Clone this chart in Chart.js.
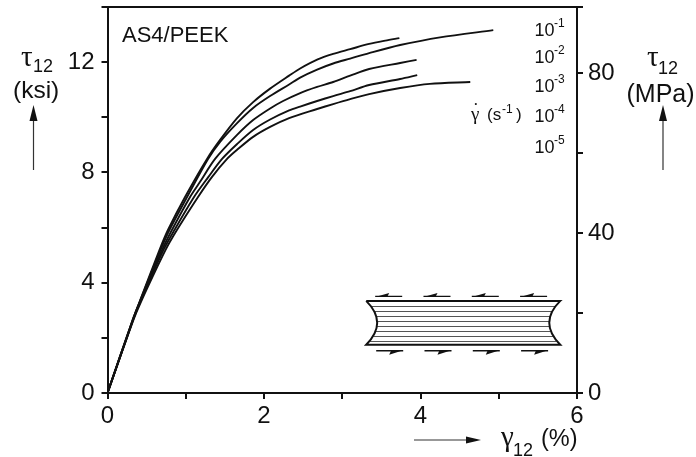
<!DOCTYPE html>
<html>
<head>
<meta charset="utf-8">
<style>
  html, body { margin: 0; padding: 0; background: #fff; }
  canvas { display: block; }
</style>
<script src="https://cdn.jsdelivr.net/npm/chart.js@4/dist/chart.umd.min.js"></script>
</head>
<body>
<canvas id="chart" width="696" height="457"></canvas>
<script>
// shear strain (%) and shear stress (ksi), one pair per strain rate
const strainA = [0, 0.32, 0.41, 0.665, 0.774, 0.991, 1.272, 1.439, 1.656, 1.861, 2.078, 2.321, 2.462, 2.679, 2.884, 3.101, 3.344, 3.55, 3.73];
const stressA = [0, 2.64, 3.31, 5.19, 5.92, 7.11, 8.49, 9.18, 9.97, 10.55, 11.04, 11.51, 11.77, 12.09, 12.3, 12.47, 12.66, 12.78, 12.87];
const strainB = [0, 0.32, 0.412, 0.678, 0.793, 1.017, 1.285, 1.439, 1.656, 1.861, 2.078, 2.321, 2.462, 2.679, 2.884, 3.101, 3.344, 3.74, 4.25, 4.93];
const stressB = [0, 2.64, 3.31, 5.19, 5.92, 7.11, 8.49, 9.11, 9.79, 10.34, 10.77, 11.19, 11.44, 11.73, 11.95, 12.13, 12.33, 12.62, 12.9, 13.16];
const strainC = [0, 0.325, 0.416, 0.698, 0.825, 1.055, 1.183, 1.375, 1.656, 1.861, 2.078, 2.244, 2.462, 2.679, 2.884, 3.101, 3.344, 3.74, 3.95];
const stressC = [0, 2.64, 3.31, 5.19, 5.92, 7.11, 7.66, 8.49, 9.36, 9.9, 10.32, 10.59, 10.88, 11.1, 11.28, 11.51, 11.75, 11.97, 12.08];
const strainD = [0, 0.325, 0.42, 0.716, 0.857, 1.106, 1.285, 1.464, 1.656, 1.861, 2.078, 2.321, 2.462, 2.679, 2.884, 3.101, 3.344, 3.74, 3.958];
const stressD = [0, 2.64, 3.31, 5.19, 5.92, 7.11, 7.82, 8.49, 9.03, 9.54, 9.92, 10.25, 10.39, 10.59, 10.77, 10.95, 11.17, 11.39, 11.53];
const strainE = [0, 0.33, 0.428, 0.742, 0.889, 1.157, 1.336, 1.528, 1.656, 1.861, 2.078, 2.321, 2.679, 2.884, 3.101, 3.344, 3.74, 4.12, 4.636];
const stressE = [0, 2.64, 3.31, 5.19, 5.92, 7.11, 7.84, 8.49, 8.82, 9.29, 9.65, 9.97, 10.3, 10.48, 10.66, 10.84, 11.06, 11.21, 11.28];

const strainRates = ['-1', '-2', '-3', '-4', '-5'];
const ksiLabels = [0, 4, 8, 12];
const mpaLabels = [0, 40, 80];
const strainLabels = [0, 2, 4, 6];

const INK = '#111';
const SANS = '"Liberation Sans", Arial, sans-serif';
const SERIF = '"Liberation Serif", serif';

function curve(xs, ys) {
    return {
        data: xs.map((x, i) => ({ x: x, y: ys[i] })),
        borderColor: INK,
        borderWidth: 1.9,
        pointRadius: 0,
        showLine: true,
        tension: 0.3,
        xAxisID: 'x',
        yAxisID: 'y'
    };
}

function text(ctx, str, x, y, size, font, align) {
    ctx.font = `${size}px ${font || SANS}`;
    ctx.textAlign = align || 'left';
    ctx.textBaseline = 'alphabetic';
    ctx.fillStyle = INK;
    ctx.fillText(str, x, y);
}

function arrow(ctx, x1, y1, x2, y2, head, width) {
    const a = Math.atan2(y2 - y1, x2 - x1);
    ctx.strokeStyle = '#333';
    ctx.lineWidth = 1.2;
    ctx.beginPath();
    ctx.moveTo(x1, y1);
    ctx.lineTo(x2 - head * Math.cos(a), y2 - head * Math.sin(a));
    ctx.stroke();
    ctx.fillStyle = INK;
    ctx.beginPath();
    ctx.moveTo(x2, y2);
    ctx.lineTo(x2 - head * Math.cos(a) - width * Math.sin(a), y2 - head * Math.sin(a) + width * Math.cos(a));
    ctx.lineTo(x2 - head * Math.cos(a) + width * Math.sin(a), y2 - head * Math.sin(a) - width * Math.cos(a));
    ctx.closePath();
    ctx.fill();
}

// specimen sketch, placed in axis units so it stays with the plot
function drawSpecimen(ctx, sx, sy) {
    const left = sx.getPixelForValue(3.306), right = sx.getPixelForValue(5.786);
    const top = sy.getPixelForValue(3.34), bottom = sy.getPixelForValue(1.75);
    const bow = 22, h = bottom - top;

    ctx.strokeStyle = '#555';
    ctx.lineWidth = 1;
    for (let k = 0; k < 8; k++) {
        const y = top + 5 + k * 5 - (k > 2 ? 0.3 : 0);
        const t = (y - top) / h;
        const off = 2 * t * (1 - t) * bow;
        ctx.beginPath();
        ctx.moveTo(left + off, Math.round(y) + 0.5);
        ctx.lineTo(right - off, Math.round(y) + 0.5);
        ctx.stroke();
    }

    ctx.strokeStyle = INK;
    ctx.lineWidth = 2;
    ctx.beginPath();
    ctx.moveTo(left, top);
    ctx.lineTo(right, top);
    ctx.quadraticCurveTo(right - bow, top + h / 2, right, bottom);
    ctx.lineTo(left, bottom);
    ctx.quadraticCurveTo(left + bow, top + h / 2, left, top);
    ctx.stroke();

    ctx.fillStyle = INK;
    for (let k = 0; k < 4; k++) {
        const a = left + 9 + k * 48.3;
        // top row points left, bottom row points right, half heads
        ctx.lineWidth = 1.3;
        ctx.beginPath();
        ctx.moveTo(a, top - 4.5);
        ctx.lineTo(a + 27, top - 4.5);
        ctx.moveTo(a + 1, bottom + 6);
        ctx.lineTo(a + 28, bottom + 6);
        ctx.stroke();
        ctx.beginPath();
        ctx.moveTo(a, top - 4);
        ctx.lineTo(a + 14, top - 8);
        ctx.lineTo(a + 12, top - 4);
        ctx.closePath();
        ctx.fill();
        ctx.beginPath();
        ctx.moveTo(a + 28, bottom + 5.5);
        ctx.lineTo(a + 14, bottom + 10);
        ctx.lineTo(a + 16, bottom + 5.5);
        ctx.closePath();
        ctx.fill();
    }
}

const annotations = {
    id: 'annotations',
    afterDraw(chart) {
        const ctx = chart.ctx;
        ctx.save();

        text(ctx, 'AS4/PEEK', 122, 41.5, 22);

        // left axis title
        text(ctx, 'τ', 21, 66, 29, SERIF);
        text(ctx, '12', 33, 72, 18);
        text(ctx, '(ksi)', 13, 98, 24.5);
        arrow(ctx, 33.5, 170, 33.5, 105, 16, 4);

        // right axis title
        text(ctx, 'τ', 647, 66, 29, SERIF);
        text(ctx, '12', 658, 74, 18);
        text(ctx, '(MPa)', 626.5, 102, 25);
        arrow(ctx, 663, 170, 663, 105, 16, 4);

        // bottom axis title
        arrow(ctx, 414, 440, 481, 440, 15, 3.5);
        text(ctx, 'γ', 501, 446, 29, SERIF);
        text(ctx, '12', 513, 456, 18);
        text(ctx, '(%)', 541, 446, 23.5);

        // strain rate key
        const rateY = [36, 63, 91.5, 122, 153];
        strainRates.forEach((exp, i) => {
            text(ctx, '10', 534.5, rateY[i], 18);
            text(ctx, exp, 554, rateY[i] - 9, 12);
        });
        text(ctx, 'γ', 471, 120, 19, SERIF);
        text(ctx, '·', 473, 110, 17, SERIF);
        text(ctx, '(s', 487, 120, 17);
        text(ctx, '-1', 502, 113, 12);
        text(ctx, ')', 516, 120, 17);

        drawSpecimen(ctx, chart.scales.x, chart.scales.y);
        ctx.restore();
    }
};

function tickStyle() {
    return { drawOnChartArea: false, drawTicks: true, tickLength: 6, tickColor: INK, lineWidth: 2 };
}

// tick labels must not push the plot area in from the edges
function fixSize(prop, value) {
    return s => {
        s[prop] = value;
        s.paddingTop = s.paddingBottom = s.paddingLeft = s.paddingRight = 0;
    };
}

new Chart(document.getElementById('chart'), {
    type: 'scatter',
    data: {
        datasets: [
            curve(strainA, stressA),
            curve(strainB, stressB),
            curve(strainC, stressC),
            curve(strainD, stressD),
            curve(strainE, stressE)
        ]
    },
    options: {
        responsive: false,
        animation: false,
        layout: { padding: { top: 7, left: 0, right: 0, bottom: 0 } },
        plugins: { legend: { display: false }, tooltip: { enabled: false } },
        scales: {
            x: {
                type: 'linear',
                position: 'bottom',
                min: 0,
                max: 6,
                afterFit: fixSize('height', 64),
                border: { color: INK, width: 2 },
                grid: tickStyle(),
                ticks: {
                    stepSize: 1,
                    autoSkip: false,
                    maxRotation: 0,
                    padding: 3,
                    color: INK,
                    font: { family: SANS, size: 24 },
                    callback: v => strainLabels.includes(v) ? String(v) : ''
                }
            },
            xTop: {
                type: 'linear',
                position: 'top',
                min: 0,
                max: 6,
                afterFit: fixSize('height', 0),
                border: { color: INK, width: 2 },
                grid: { display: false, drawTicks: false },
                ticks: { display: false }
            },
            y: {
                type: 'linear',
                position: 'left',
                min: 0,
                max: 14,
                afterFit: fixSize('width', 107.5),
                border: { color: INK, width: 2 },
                grid: tickStyle(),
                ticks: {
                    stepSize: 2,
                    autoSkip: false,
                    padding: 7,
                    color: INK,
                    font: { family: SANS, size: 24 },
                    callback: v => ksiLabels.includes(v) ? String(v) : ''
                }
            },
            yRight: {
                type: 'linear',
                position: 'right',
                min: 0,
                max: 96.6,
                afterFit: fixSize('width', 119),
                border: { color: INK, width: 2 },
                grid: tickStyle(),
                ticks: {
                    stepSize: 20,
                    autoSkip: false,
                    padding: 5,
                    color: INK,
                    font: { family: SANS, size: 24 },
                    callback: v => mpaLabels.includes(v) ? String(v) : ''
                }
            }
        }
    },
    plugins: [annotations]
});
</script>
</body>
</html>
